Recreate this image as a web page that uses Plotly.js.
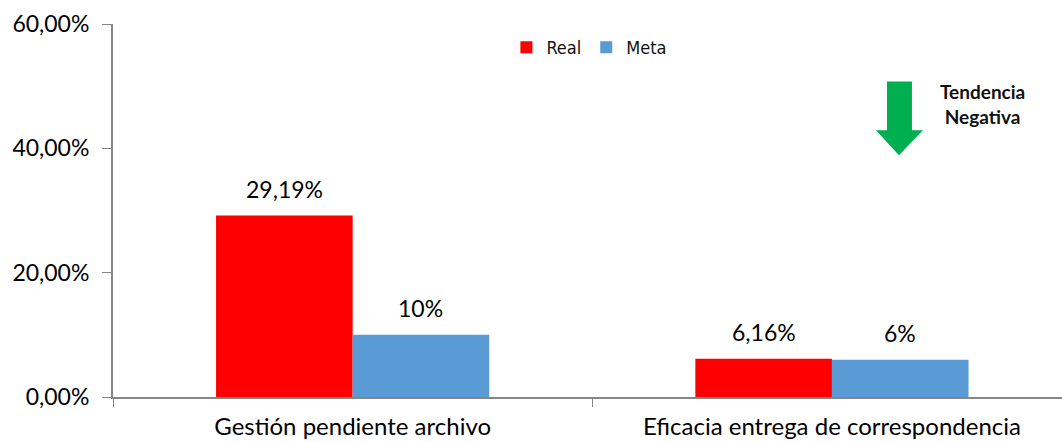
<!DOCTYPE html>
<html>
<head>
<meta charset="utf-8">
<script src="https://cdn.plot.ly/plotly-3.0.1.min.js"></script>
<style>html,body{margin:0;padding:0;background:#fff}#chart{width:1062px;height:442px}</style>
</head>
<body>
<div id="chart"></div>
<script>
const categories = ["Gestión pendiente archivo", "Eficacia entrega de correspondencia"];
const realValues = [0.2919, 0.0616];
const metaValues = [0.10, 0.06];
const realLabels = ["29,19%", "6,16%"];
const metaLabels = ["10%", "6%"];
const yTickValues = [0, 0.2, 0.4, 0.6];

const FONT = "Lato, 'Open Sans', sans-serif";
const BARGAP = 0.43;

const traces = [
  {
    type: "bar", name: "Real", x: categories, y: realValues,
    marker: {color: "#FF0000"}, hoverinfo: "skip"
  },
  {
    type: "bar", name: "Meta", x: categories, y: metaValues,
    marker: {color: "#5B9BD5"}, hoverinfo: "skip"
  }
];

// value labels placed above each bar via data coordinates
const barOffset = (1 - BARGAP) / 4;
const labelAnnotations = [];
categories.forEach((c, i) => {
  labelAnnotations.push({x: i - barOffset, y: realValues[i], text: realLabels[i]});
  labelAnnotations.push({x: i + barOffset, y: metaValues[i], text: metaLabels[i]});
});
const valueAnns = labelAnnotations.map(a => ({
  xref: "x", yref: "y", x: a.x, y: a.y, text: a.text, showarrow: false,
  xanchor: "center", yanchor: "middle", yshift: 27,
  font: {family: FONT, size: 23, color: "#000"}
}));

const layout = {
  width: 1062, height: 442,
  margin: {l: 113, r: 0, t: 23.5, b: 45, pad: 0},
  paper_bgcolor: "#fff", plot_bgcolor: "#fff",
  barmode: "group", bargap: BARGAP, bargroupgap: 0,
  showlegend: true,
  legend: {orientation: "h", x: 0.502, y: 0.937, xanchor: "center", yanchor: "middle",
           font: {family: "'DejaVu Sans Condensed', 'DejaVu Sans', sans-serif", size: 18, color: "#111"},
           itemwidth: 30, tracegroupgap: 0, bgcolor: "rgba(0,0,0,0)"},
  xaxis: {
    type: "category", range: [-0.5, 1.48], fixedrange: true,
    showline: true, linecolor: "#868686", linewidth: 2,
    ticks: "outside", tickson: "boundaries", ticklen: 8, tickcolor: "#868686", tickwidth: 1,
    ticklabelstandoff: 7,
    tickfont: {family: FONT, size: 24, color: "#000"},
    showgrid: false, zeroline: false
  },
  yaxis: {
    range: [0, 0.6], tickvals: yTickValues, tickformat: ".2%", fixedrange: true,
    showline: true, linecolor: "#868686", linewidth: 2,
    ticks: "outside", ticklen: 9, tickcolor: "#868686", tickwidth: 1,
    ticklabelstandoff: 8,
    tickfont: {family: FONT, size: 23, color: "#000"},
    showgrid: false, zeroline: false
  },
  separators: ",.",
  shapes: [{
    type: "path", xref: "paper", yref: "paper",
    path: "M 0.8156,0.8461 L 0.8419,0.8461 L 0.8419,0.7149 L 0.8535,0.7149 L 0.8282,0.6479 L 0.8040,0.7149 L 0.8156,0.7149 Z",
    fillcolor: "#00B050", line: {width: 0}
  }],
  annotations: valueAnns.concat([{
    xref: "paper", yref: "paper", x: 0.9167, y: 0.786, xanchor: "center", yanchor: "middle",
    text: "<b>Tendencia<br>Negativa</b>", showarrow: false, align: "center",
    font: {family: FONT, size: 19, color: "#111"}
  }])
};

Plotly.newPlot("chart", traces, layout, {displayModeBar: false, staticPlot: true});
</script>
</body>
</html>
